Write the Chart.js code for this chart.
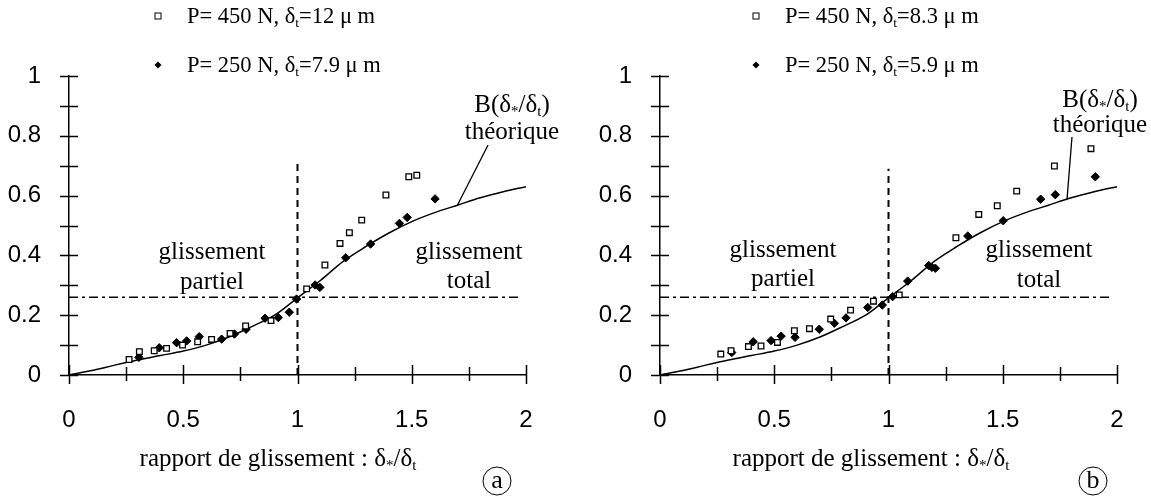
<!DOCTYPE html>
<html>
<head>
<meta charset="utf-8">
<script src="https://cdn.jsdelivr.net/npm/chart.js@4.4.1/dist/chart.umd.min.js"></script>
<style>
body { margin: 0; width: 1151px; height: 497px; overflow: hidden; background: #fff; position: relative;
       font-family: "Liberation Serif", "Times New Roman", serif; color: #000; }
.panel { position: absolute; top: 0; height: 497px; }
.panel canvas { position: absolute; left: 0; top: 0; }
.t { position: absolute; font-size: 25px; line-height: 1; white-space: nowrap; transform: translate(-50%, -50%); }
.lg { position: absolute; font-size: 22.5px; line-height: 1; white-space: nowrap; transform: translateY(-50%); }
sub { font-size: 0.6em; vertical-align: -0.3em; line-height: 0; }
.sq { position: absolute; width: 5px; height: 5px; border: 1.3px solid #000; background: #fff; transform: translate(-50%, -50%); }
.dm { position: absolute; width: 5px; height: 5px; background: #000; transform: translate(-50%, -50%) rotate(45deg); }
.circ { position: absolute; width: 27px; height: 27px; border: 1.3px solid #000; border-radius: 50%;
        transform: translate(-50%, -50%); text-align: center; line-height: 24px; font-size: 26px; }
</style>
</head>
<body>

<div class="panel" id="pa" style="left:0;width:575px"><canvas id="chartA" width="575" height="497"></canvas></div>
<div class="panel" id="pb" style="left:591px;width:560px"><canvas id="chartB" width="560" height="497"></canvas></div>

<!-- panel a texts -->
<div class="sq" style="left:158px;top:16px"></div>
<div class="lg" style="left:187px;top:16px">P= 450 N, δ<sub>t</sub>=12 μ m</div>
<div class="dm" style="left:158px;top:65px"></div>
<div class="lg" style="left:187px;top:65px">P= 250 N, δ<sub>t</sub>=7.9 μ m</div>
<div class="t" style="left:212px;top:250px">glissement</div>
<div class="t" style="left:212px;top:280px">partiel</div>
<div class="t" style="left:469px;top:250px">glissement</div>
<div class="t" style="left:469px;top:279px">total</div>
<div class="t" style="left:512px;top:103px">B(δ<sub>*</sub>/δ<sub>t</sub>)</div>
<div class="t" style="left:512px;top:130px">théorique</div>
<div class="t" style="left:278px;top:457px">rapport de glissement : δ<sub>*</sub>/δ<sub>t</sub></div>
<div class="circ" style="left:497px;top:481px">a</div>

<!-- panel b texts -->
<div class="sq" style="left:756px;top:16px"></div>
<div class="lg" style="left:785px;top:16px">P= 450 N, δ<sub>t</sub>=8.3 μ m</div>
<div class="dm" style="left:756px;top:65px"></div>
<div class="lg" style="left:785px;top:65px">P= 250 N, δ<sub>t</sub>=5.9 μ m</div>
<div class="t" style="left:783px;top:248px">glissement</div>
<div class="t" style="left:783px;top:277px">partiel</div>
<div class="t" style="left:1039px;top:248px">glissement</div>
<div class="t" style="left:1039px;top:278px">total</div>
<div class="t" style="left:1100px;top:98px">B(δ<sub>*</sub>/δ<sub>t</sub>)</div>
<div class="t" style="left:1100px;top:123px">théorique</div>
<div class="t" style="left:871px;top:457px">rapport de glissement : δ<sub>*</sub>/δ<sub>t</sub></div>
<div class="circ" style="left:1093px;top:481px">b</div>

<script>
// courbe théorique B(δ*/δt)
const curveX = [0, 0.1, 0.2, 0.3, 0.4, 0.5, 0.6, 0.7, 0.8, 0.9, 1.0, 1.1, 1.2, 1.3, 1.4, 1.5, 1.6, 1.7, 1.8, 1.9, 2.0];
const curveY = [0, 0.015, 0.033, 0.05, 0.065, 0.08, 0.1, 0.127, 0.162, 0.2, 0.258, 0.316, 0.38, 0.43, 0.475, 0.513, 0.543, 0.568, 0.593, 0.613, 0.63];

// (a) P=450 N carrés, P=250 N losanges
const sqA_x = [0.263, 0.308, 0.373, 0.427, 0.497, 0.563, 0.624, 0.705, 0.773, 0.884, 1.04, 1.12, 1.186, 1.227, 1.281, 1.387, 1.487, 1.522];
const sqA_y = [0.052, 0.078, 0.081, 0.089, 0.100, 0.111, 0.119, 0.139, 0.164, 0.182, 0.288, 0.368, 0.44, 0.476, 0.518, 0.602, 0.663, 0.668];
const dmA_x = [0.306, 0.395, 0.471, 0.515, 0.570, 0.668, 0.724, 0.775, 0.858, 0.916, 0.964, 0.996, 1.077, 1.098, 1.211, 1.32, 1.446, 1.48, 1.602];
const dmA_y = [0.059, 0.091, 0.108, 0.114, 0.128, 0.120, 0.137, 0.153, 0.19, 0.192, 0.21, 0.254, 0.301, 0.293, 0.392, 0.438, 0.507, 0.527, 0.589];

// (b)
const sqB_x = [0.266, 0.311, 0.387, 0.442, 0.514, 0.588, 0.654, 0.747, 0.834, 0.934, 1.047, 1.295, 1.395, 1.476, 1.561, 1.726, 1.886];
const sqB_y = [0.070, 0.081, 0.095, 0.097, 0.109, 0.148, 0.155, 0.187, 0.217, 0.247, 0.268, 0.459, 0.537, 0.566, 0.615, 0.699, 0.757];
const dmB_x = [0.314, 0.408, 0.486, 0.530, 0.591, 0.697, 0.763, 0.814, 0.909, 0.973, 1.018, 1.084, 1.176, 1.19, 1.205, 1.347, 1.502, 1.666, 1.73, 1.905];
const dmB_y = [0.075, 0.111, 0.115, 0.130, 0.126, 0.153, 0.173, 0.191, 0.226, 0.234, 0.262, 0.314, 0.366, 0.36, 0.357, 0.465, 0.516, 0.588, 0.603, 0.663];

// limites glissement partiel / total
const slipRatio = 1;
const slipLevel = 0.26;
const levelEnd = 1.97;
const vTopA = 0.71, vTopB = 0.69;

// traits de renvoi vers la courbe
const leaderA = [[1.834, 0.769], [1.698, 0.565]];
const leaderB = [[1.803, 0.796], [1.781, 0.585]];

const xLabelTicks = ['0', '0.5', '1', '1.5', '2'];
const yLabelTicks = ['0', '0.2', '0.4', '0.6', '0.8', '1'];

const zip = (xs, ys) => xs.map((x, i) => ({ x: x, y: ys[i] }));

// petits traits qui traversent les axes
const crossTicks = {
    id: 'crossTicks',
    afterDraw(chart) {
        const c = chart.ctx;
        const xs = chart.scales.x, ys = chart.scales.y;
        const x0 = xs.getPixelForValue(0), y0 = ys.getPixelForValue(0);
        c.save();
        c.strokeStyle = '#000';
        c.lineWidth = 1.5;
        c.beginPath();
        xs.ticks.forEach(t => {
            const px = Math.round(xs.getPixelForValue(t.value)) + 0.5;
            const big = t.label !== '';
            c.moveTo(px, y0 - (big ? 10 : 8));
            c.lineTo(px, y0 + (big ? 9 : 6));
        });
        ys.ticks.forEach(t => {
            const py = Math.round(ys.getPixelForValue(t.value)) + 0.5;
            c.moveTo(x0 - 9, py);
            c.lineTo(x0 + 9, py);
        });
        c.stroke();
        c.restore();
    }
};

function makeChart(id, sq, dm, vTop, leader, padRight) {
    const ctx = document.getElementById(id).getContext('2d');
    return new Chart(ctx, {
        data: {
            datasets: [
                {
                    type: 'scatter', data: sq, order: 1,
                    pointStyle: 'rect', pointRadius: 4, pointHoverRadius: 4,
                    backgroundColor: '#fff', borderColor: '#000', borderWidth: 1.3
                },
                {
                    type: 'scatter', data: dm, order: 2,
                    pointStyle: 'rectRot', pointRadius: 4.2, pointHoverRadius: 4.2,
                    backgroundColor: '#000', borderColor: '#000', borderWidth: 1
                },
                {
                    type: 'line', data: zip(curveX, curveY), order: 3,
                    borderColor: '#000', borderWidth: 1.5, pointRadius: 0,
                    cubicInterpolationMode: 'monotone', fill: false
                },
                {
                    type: 'line', data: [{ x: slipRatio, y: 0 }, { x: slipRatio, y: vTop }], order: 4,
                    borderColor: '#000', borderWidth: 2, borderDash: [7, 5], pointRadius: 0, fill: false
                },
                {
                    type: 'line', data: [{ x: 0, y: slipLevel }, { x: levelEnd, y: slipLevel }], order: 5,
                    borderColor: '#000', borderWidth: 1.5, borderDash: [9, 4, 3, 4], pointRadius: 0, fill: false
                },
                {
                    type: 'line', data: leader.map(p => ({ x: p[0], y: p[1] })), order: 6,
                    borderColor: '#000', borderWidth: 1.3, pointRadius: 0, fill: false
                }
            ]
        },
        options: {
            responsive: false,
            animation: false,
            events: [],
            layout: { padding: { left: 0, right: padRight, top: 76, bottom: 62 } },
            plugins: { legend: { display: false }, tooltip: { enabled: false } },
            scales: {
                x: {
                    type: 'linear', min: 0, max: 2,
                    afterFit: s => { s.height = 60; },
                    grid: { display: false },
                    border: { display: true, color: '#000', width: 1.5 },
                    ticks: {
                        stepSize: 0.25, padding: 23, color: '#000', maxRotation: 0, autoSkip: false,
                        font: { family: '"Liberation Sans", Arial, sans-serif', size: 24 },
                        callback: v => {
                            const i = Math.round(v * 2);
                            return Math.abs(v * 2 - i) < 1e-6 ? xLabelTicks[i] : '';
                        }
                    }
                },
                y: {
                    type: 'linear', min: 0, max: 1,
                    afterFit: s => { s.width = 69; },
                    grid: { display: false },
                    border: { display: true, color: '#000', width: 1.5 },
                    ticks: {
                        stepSize: 0.1, padding: 20, color: '#000', autoSkip: false,
                        font: { family: '"Liberation Sans", Arial, sans-serif', size: 24 },
                        callback: v => {
                            const i = Math.round(v * 5);
                            return Math.abs(v * 5 - i) < 1e-6 ? yLabelTicks[i] : '';
                        }
                    }
                }
            }
        },
        plugins: [crossTicks]
    });
}

makeChart('chartA', zip(sqA_x, sqA_y), zip(dmA_x, dmA_y), vTopA, leaderA, 49);
makeChart('chartB', zip(sqB_x, sqB_y), zip(dmB_x, dmB_y), vTopB, leaderB, 34);
</script>
</body>
</html>
